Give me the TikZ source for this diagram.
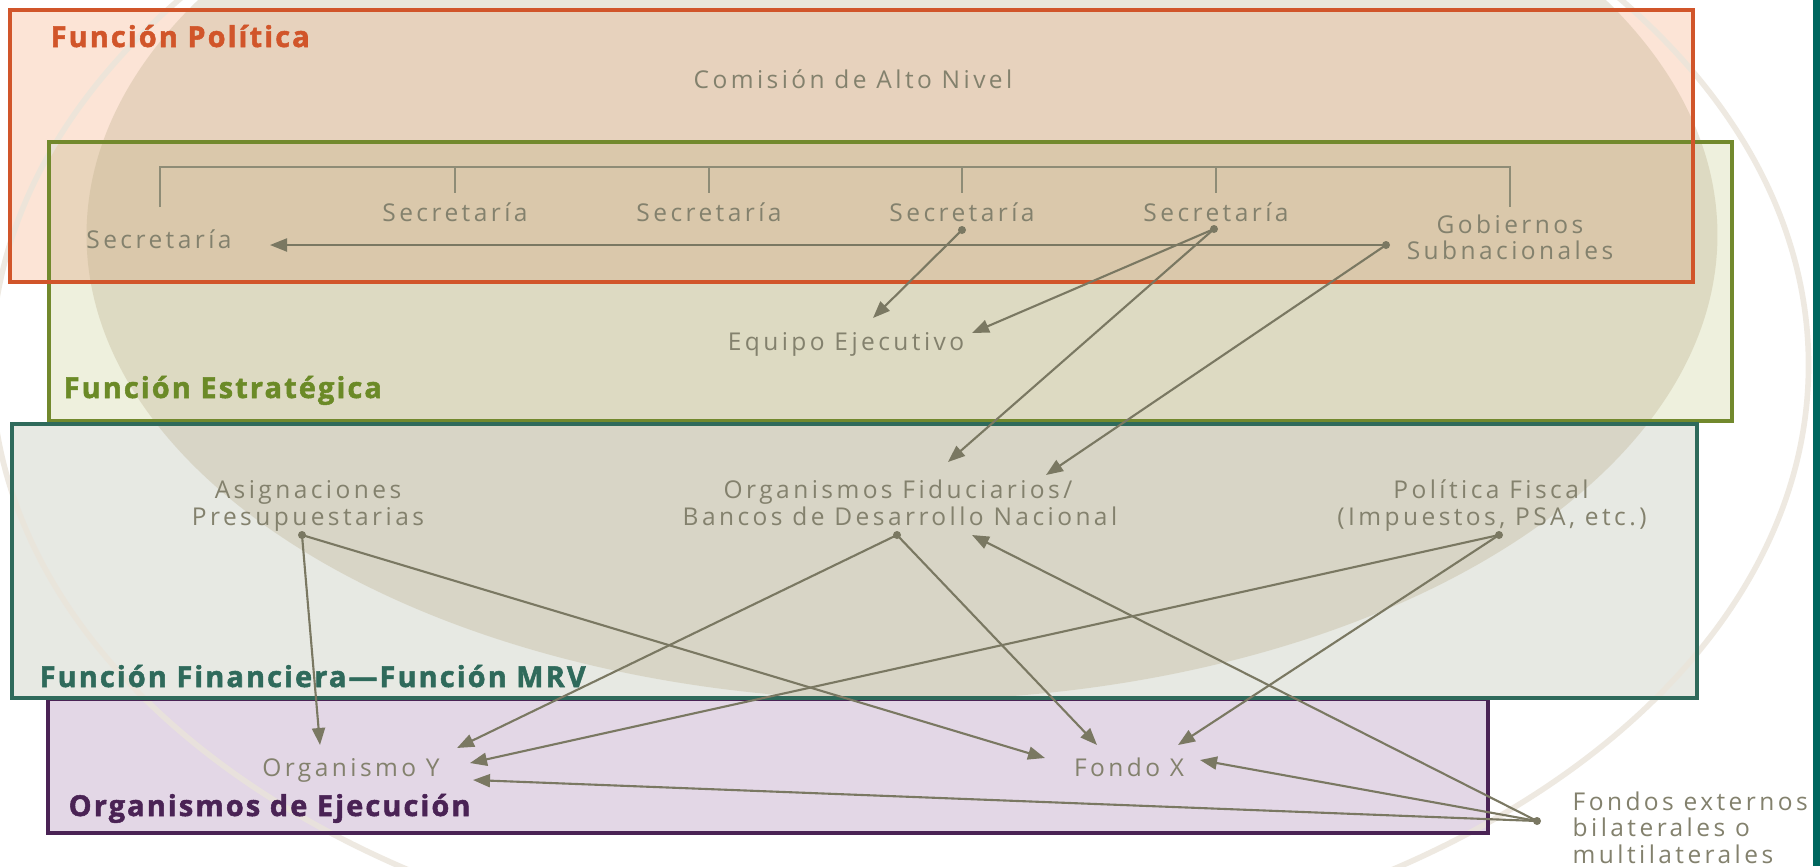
\documentclass[tikz,border=0pt]{standalone}
\usepackage{fontspec}
\setmainfont{Open Sans}
\newfontfamily\lightf{Open Sans}[LetterSpace=14]
\newfontfamily\headf{Open Sans}[LetterSpace=7.5, BoldFeatures={FakeBold=1.8}]
\usetikzlibrary{arrows.meta}
\definecolor{redS}{HTML}{D1552A}
\definecolor{greenS}{HTML}{72892D}
\definecolor{greenT}{HTML}{6B8A27}
\definecolor{tealS}{HTML}{2F6A5B}
\definecolor{purpS}{HTML}{4A2355}
\definecolor{redF}{HTML}{FCE4D6}
\definecolor{greenF}{HTML}{EEF0DD}
\definecolor{overF}{HTML}{E9D5BC}
\definecolor{tealF}{HTML}{E7E9E3}
\definecolor{purpF}{HTML}{E3D7E6}
\definecolor{ellF}{HTML}{B8AA86}
\definecolor{ringC}{HTML}{EAE4DA}
\definecolor{txtC}{HTML}{83816D}
\definecolor{arrC}{HTML}{7A7862}
\definecolor{brkC}{HTML}{8E8C76}
\definecolor{barC}{HTML}{00675F}
\tikzset{
  boxline/.style={line width=1.15pt},
  lbl/.style={font=\lightf\fontsize{6.97}{8.4}\selectfont, text=txtC, inner sep=0pt, anchor=base},
  lblw/.style={lbl, anchor=base west},
  head/.style={font=\headf\bfseries\fontsize{8.2}{9.8}\selectfont, inner sep=0pt, anchor=base west},
  conn/.style={draw=arrC, line width=0.6pt, -{Triangle[length=0.17cm,width=0.13cm]}},
  brk/.style={draw=brkC, line width=0.6pt},
  dotc/.style={fill=arrC}
}
\begin{document}
\begin{tikzpicture}[x=0.01cm,y=-0.01cm]
\useasboundingbox (0,0) rectangle (1820,866);
\fill[white] (0,0) rectangle (1820,866);
% box fills
\fill[greenF] (49,142) rectangle (1732,421);
\fill[redF] (10,10) rectangle (1693,282);
\fill[overF] (49,142) rectangle (1693,282);
\fill[tealF] (12,424) rectangle (1697,698);
\fill[purpF] (48,699) rectangle (1488,833);
% filled ellipse
\fill[ellF, fill opacity=0.3] (902,235) ellipse [x radius=8.15cm, y radius=4.65cm];
% ring
\draw[ringC, line width=1.6pt, opacity=0.8] (900,365) ellipse [x radius=9.08cm, y radius=6.0cm];
% box strokes
\draw[purpS, boxline] (48,699) rectangle (1488,833);
\draw[greenS, boxline] (49,142) rectangle (1732,421);
\draw[tealS, boxline] (12,424) rectangle (1697,698);
\draw[redS, boxline] (10,10) rectangle (1693,282);
% right bar
\fill[barC] (1813,0) rectangle (1820,866);
% headings
\node[head, text=redS] (hpol) at (50,47) {Función Política};
\node[head, text=greenT] (hest) at (63,398) {Función Estratégica};
\node[head, text=tealS] (hfin) at (39,687) {Función Financiera—Función MRV};
\node[head, text=purpS] (heje) at (68,816) {Organismos de Ejecución};
% bracket
\draw[brk] (160,207) -- (160,167) -- (1510,167) -- (1510,207);
\foreach \x in {455,709,962,1216} \draw[brk] (\x,167) -- (\x,193);
% labels
\node[lbl] (comision) at (853,88) {Comisión de Alto Nivel};
\node[lbl] (secL) at (159,248) {Secretaría};
\node[lbl] (sec1) at (455,221) {Secretaría};
\node[lbl] (sec2) at (709,221) {Secretaría};
\node[lbl] (sec3) at (962,221) {Secretaría};
\node[lbl] (sec4) at (1216,221) {Secretaría};
\node[lbl] (gob1) at (1510,233) {Gobiernos};
\node[lbl] (gob2) at (1510,259) {Subnacionales};
\node[lbl] (equipo) at (846,350) {Equipo Ejecutivo};
\node[lbl] (asig1) at (308,498) {Asignaciones};
\node[lbl] (asig2) at (308,525) {Presupuestarias};
\node[lbl] (fid1) at (898,498) {Organismos Fiduciarios/};
\node[lbl] (fid2) at (900,525) {Bancos de Desarrollo Nacional};
\node[lbl] (fis1) at (1491,498) {Política Fiscal};
\node[lbl] (fis2) at (1492,525) {(Impuestos, PSA, etc.)};
\node[lbl] (orgY) at (351,776) {Organismo Y};
\node[lbl] (fondoX) at (1129,776) {Fondo X};
\node[lblw] (ext1) at (1572,810) {Fondos externos};
\node[lblw] (ext2) at (1572,836) {bilaterales o};
\node[lblw] (ext3) at (1572,863) {multilaterales};
% connector endpoints
\coordinate (gobDot) at (1386,245);
\coordinate (sec3Dot) at (962,230);
\coordinate (sec4Dot) at (1214,229);
\coordinate (asigDot) at (302,535);
\coordinate (fidDot) at (897,535);
\coordinate (fisDot) at (1499,535);
\coordinate (extDot) at (1537,821);
\coordinate (secLIn) at (270,245);
\coordinate (eqIn1) at (873,318);
\coordinate (eqIn2) at (972,333);
\coordinate (fidIn1) at (948,462);
\coordinate (fidIn2) at (1046,475);
\coordinate (fidIn3) at (972,535);
\coordinate (orgIn1) at (320,745);
\coordinate (orgIn2) at (457,748);
\coordinate (orgIn3) at (470,763);
\coordinate (orgIn4) at (473,780);
\coordinate (fxIn1) at (1045,758);
\coordinate (fxIn2) at (1097,745);
\coordinate (fxIn3) at (1178,745);
\coordinate (fxIn4) at (1200,760);
% connectors
\draw[conn] (gobDot) -- (secLIn);
\draw[conn] (sec3Dot) -- (eqIn1);
\draw[conn] (sec4Dot) -- (eqIn2);
\draw[conn] (sec4Dot) -- (fidIn1);
\draw[conn] (gobDot) -- (fidIn2);
\draw[conn] (asigDot) -- (orgIn1);
\draw[conn] (asigDot) -- (fxIn1);
\draw[conn] (fidDot) -- (orgIn2);
\draw[conn] (fidDot) -- (fxIn2);
\draw[conn] (fisDot) -- (orgIn3);
\draw[conn] (fisDot) -- (fxIn3);
\draw[conn] (extDot) -- (fidIn3);
\draw[conn] (extDot) -- (fxIn4);
\draw[conn] (extDot) -- (orgIn4);
% dots
\foreach \d in {gobDot,sec3Dot,sec4Dot,asigDot,fidDot,fisDot,extDot}
  \fill[dotc] (\d) circle (0.04cm);
\end{tikzpicture}
\end{document}
